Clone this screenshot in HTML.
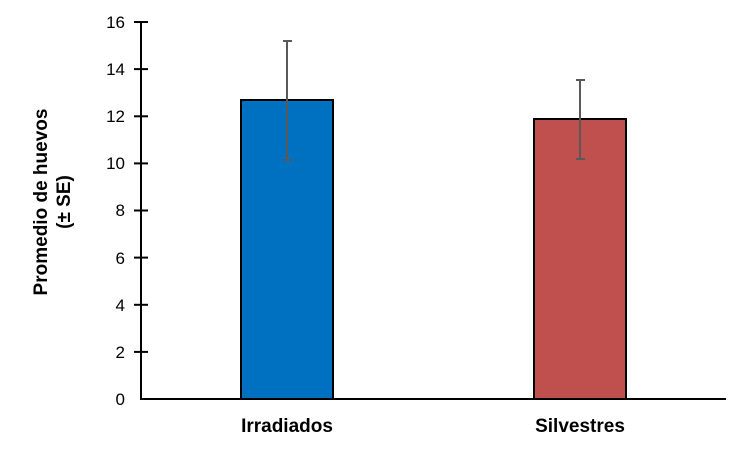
<!DOCTYPE html>
<html><head><meta charset="utf-8"><style>body{margin:0;background:#fff}</style></head><body>
<svg width="750" height="450" viewBox="0 0 750 450" xmlns="http://www.w3.org/2000/svg" font-family="Liberation Sans, Arial, sans-serif">
<rect width="750" height="450" fill="#fff"/>
<rect x="241" y="100" width="92" height="299" fill="#0070C0" stroke="#000" stroke-width="2"/>
<rect x="534" y="119" width="92" height="280" fill="#C0504D" stroke="#000" stroke-width="2"/>
<g stroke="#595959" stroke-width="2">
<line x1="287" y1="41" x2="287" y2="160"/><line x1="283" y1="41" x2="292" y2="41"/><line x1="283" y1="160" x2="292" y2="160"/>
<line x1="580" y1="80" x2="580" y2="159"/><line x1="576" y1="80" x2="585" y2="80"/><line x1="576" y1="159" x2="585" y2="159"/>
</g>
<g stroke="#000" stroke-width="2">
<line x1="141" y1="22" x2="141" y2="400"/><line x1="140" y1="399" x2="726" y2="399"/>
<line x1="134" y1="22" x2="148" y2="22"/><line x1="134" y1="69.1" x2="148" y2="69.1"/><line x1="134" y1="116.3" x2="148" y2="116.3"/><line x1="134" y1="163.4" x2="148" y2="163.4"/><line x1="134" y1="210.5" x2="148" y2="210.5"/><line x1="134" y1="257.6" x2="148" y2="257.6"/><line x1="134" y1="304.8" x2="148" y2="304.8"/><line x1="134" y1="351.9" x2="148" y2="351.9"/>
</g>
<g font-size="17" text-anchor="end" fill="#000">
<text x="125" y="28">16</text><text x="125" y="75">14</text><text x="125" y="122">12</text><text x="125" y="169">10</text><text x="125" y="216">8</text><text x="125" y="264">6</text><text x="125" y="311">4</text><text x="125" y="358">2</text><text x="125" y="405">0</text>
</g>
<g font-size="19" font-weight="bold" text-anchor="middle" fill="#000">
<text x="287" y="432">Irradiados</text><text x="580" y="432">Silvestres</text>
<text transform="translate(47,202) rotate(-90)">Promedio de huevos</text>
<text transform="translate(70,202) rotate(-90)">(± SE)</text>
</g>
</svg>
</body></html>
